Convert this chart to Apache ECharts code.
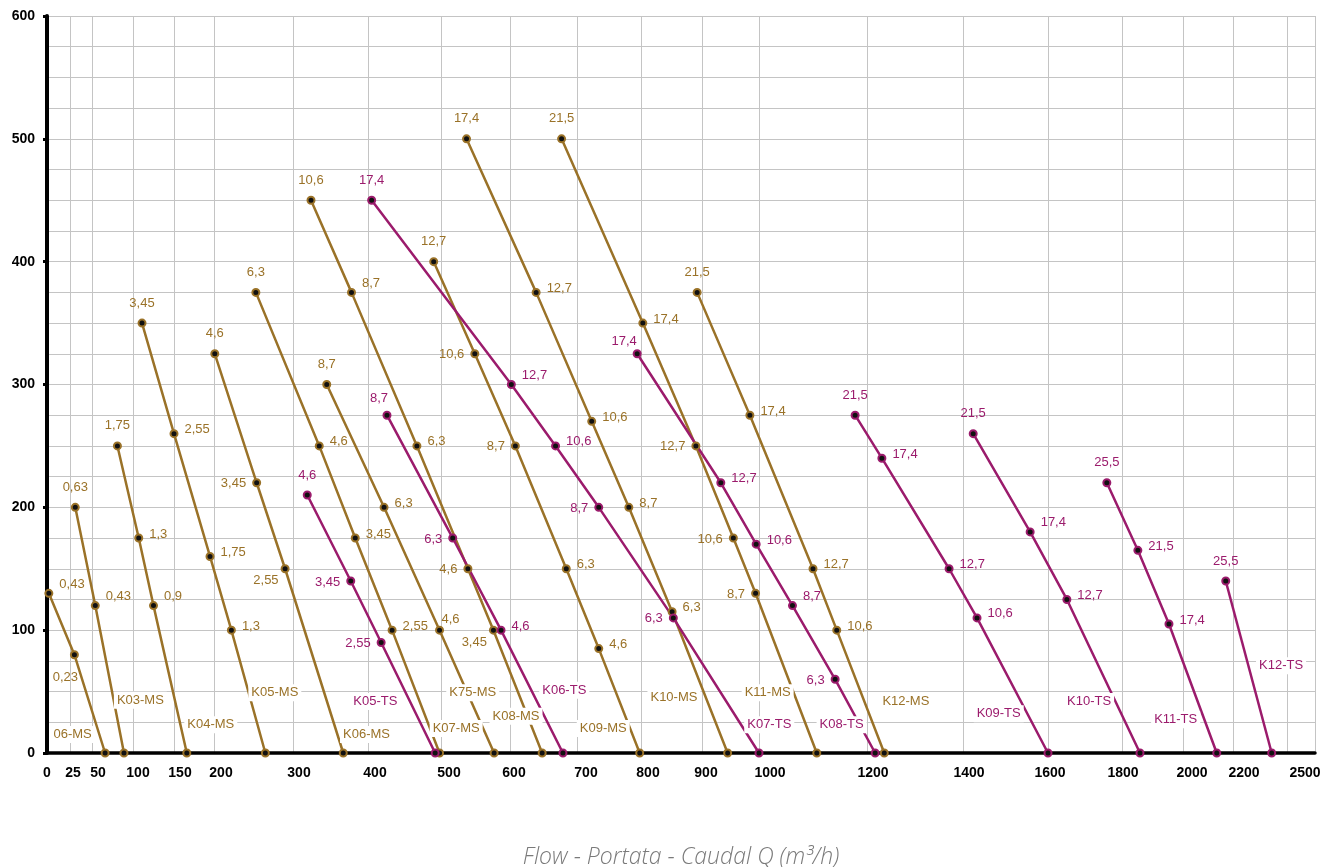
<!DOCTYPE html>
<html>
<head>
<meta charset="utf-8">
<title>Pump curves</title>
<script src="https://cdn.jsdelivr.net/npm/echarts@6/dist/echarts.min.js"></script>
<style>
  html, body { margin: 0; padding: 0; background: #fff; }
  #chart { width: 1323px; height: 867px; }
</style>
</head>
<body>
<div id="chart"></div>
<script>
// flow axis is not linear: gridlines sit at these flows, at these offsets (px from the y axis)
var xTickFlows = [0, 25, 50, 100, 150, 200, 300, 400, 500, 600, 700, 800, 900, 1000, 1200, 1400, 1600, 1800, 2000, 2200, 2500];
var xTickPos = [0, 23, 45, 86, 127, 167, 246, 321, 394, 463, 530, 594, 655, 712, 820, 916, 1001, 1075, 1136, 1186, 1240];
var xAxisEnd = 1268;
// the tick labels sit a bit right of their gridlines
var xLabelPos = [0, 26, 51, 91, 133, 174, 252, 328, 402, 467, 539, 601, 659, 723, 826, 922, 1003, 1076, 1145, 1197, 1258];

var seriesNames = ['06-MS', 'K03-MS', 'K04-MS', 'K05-MS', 'K06-MS', 'K07-MS', 'K75-MS', 'K08-MS', 'K09-MS', 'K10-MS',
  'K11-MS', 'K12-MS', 'K05-TS', 'K06-TS', 'K07-TS', 'K08-TS', 'K09-TS', 'K10-TS', 'K11-TS', 'K12-TS'];

// flow (m3/h)
var flowValues = [
  [2, 30, 66],
  [31, 54, 89],
  [81, 107, 125, 166],
  [111, 150, 195, 222, 265],
  [201, 254, 290, 367],
  [253, 335, 383, 433, 498],
  [345, 422, 498, 577],
  [324, 378, 467, 539, 576, 648],
  [490, 549, 608, 684, 734, 798],
  [537, 639, 723, 781, 851, 945],
  [677, 803, 890, 955, 994, 1107],
  [892, 984, 1100, 1144, 1236],
  [319, 377, 418, 492],
  [426, 517, 587, 679],
  [405, 602, 668, 734, 853, 1000],
  [794, 933, 995, 1062, 1141, 1217],
  [1178, 1231, 1371, 1433, 1600],
  [1424, 1558, 1651, 1859],
  [1759, 1852, 1954, 2135],
  [2171, 2415]
];

// head
var headValues = [
  [130, 80, 0],
  [200, 120, 0],
  [250, 175, 120, 0],
  [350, 260, 160, 100, 0],
  [325, 220, 150, 0],
  [375, 250, 175, 100, 0],
  [300, 200, 100, 0],
  [450, 375, 250, 150, 100, 0],
  [400, 325, 250, 150, 85, 0],
  [500, 375, 270, 200, 115, 0],
  [500, 350, 250, 175, 130, 0],
  [375, 275, 150, 100, 0],
  [210, 140, 90, 0],
  [275, 175, 100, 0],
  [450, 300, 250, 200, 110, 0],
  [325, 220, 170, 120, 60, 0],
  [275, 240, 150, 110, 0],
  [260, 180, 125, 0],
  [220, 165, 105, 0],
  [140, 0]
];

// power printed next to each point
var powerValues = [
  [0.43, 0.23, null],
  [0.63, 0.43, null],
  [1.75, 1.3, 0.9, null],
  [3.45, 2.55, 1.75, 1.3, null],
  [4.6, 3.45, 2.55, null],
  [6.3, 4.6, 3.45, 2.55, null],
  [8.7, 6.3, 4.6, null],
  [10.6, 8.7, 6.3, 4.6, 3.45, null],
  [12.7, 10.6, 8.7, 6.3, 4.6, null],
  [17.4, 12.7, 10.6, 8.7, 6.3, null],
  [21.5, 17.4, 12.7, 10.6, 8.7, null],
  [21.5, 17.4, 12.7, 10.6, null],
  [4.6, 3.45, 2.55, null],
  [8.7, 6.3, 4.6, null],
  [17.4, 12.7, 10.6, 8.7, 6.3, null],
  [17.4, 12.7, 10.6, 8.7, 6.3, null],
  [21.5, 17.4, 12.7, 10.6, null],
  [21.5, 17.4, 12.7, null],
  [25.5, 21.5, 17.4, null],
  [25.5, null]
];

// where the series name is written (flow, head)
var nameFlows = [28, 109, 196, 277, 398, 522, 546, 609, 741, 854, 1016, 1281, 410, 681, 1019, 1153, 1484, 1711, 1976, 2467];
var nameHeads = [15, 43, 23, 49, 15, 20, 49, 30, 20, 45, 49, 42, 42, 51, 23, 23, 32, 42, 27, 71];

// which side of the point each power label goes
var labelSides = [
  ['ru', 'bl', ''],
  ['t', 'ru', ''],
  ['t', 'r', 'ru', ''],
  ['t', 'r', 'r', 'r', ''],
  ['t', 'l', 'ld', ''],
  ['t', 'r', 'r', 'r', ''],
  ['t', 'r', 'tr', ''],
  ['t', 'ru', 'r', 'l', 'ld', ''],
  ['t', 'l', 'l', 'r', 'r', ''],
  ['t', 'r', 'r', 'r', 'r', ''],
  ['t', 'r', 'l', 'l', 'l', ''],
  ['t', 'r', 'r', 'r', ''],
  ['t', 'l', 'l', ''],
  ['tw', 'l', 'r', ''],
  ['t', 'ru', 'r', 'l', 'l', ''],
  ['tl', 'r', 'r', 'ru', 'l', ''],
  ['t', 'r', 'r', 'r', ''],
  ['t', 'ru', 'r', ''],
  ['t', 'r', 'r', ''],
  ['t', '']
];

var GOLD = '#9a7228';
var PURPLE = '#9b1b6c';
var GRID = '#c4c4c4';

var SIDES = {
  t: { position: 'top', distance: 9 },
  tw: { position: 'top', distance: 6, offset: [-8, 0] },
  tl: { position: 'top', distance: 1, offset: [-13, 0] },
  tr: { position: 'top', distance: 0, offset: [11, 0] },
  r: { position: 'right', distance: 6, offset: [0, -4] },
  ru: { position: 'right', distance: 6, offset: [0, -9] },
  l: { position: 'left', distance: 6, offset: [0, 1] },
  ld: { position: 'left', distance: 2, offset: [0, 12] },
  bl: { position: 'bottom', distance: 12, offset: [-9, 0] }
};

function toAxis(flow) {
  for (var i = 1; i < xTickFlows.length; i++) {
    if (flow <= xTickFlows[i]) {
      var t = (flow - xTickFlows[i - 1]) / (xTickFlows[i] - xTickFlows[i - 1]);
      return xTickPos[i - 1] + t * (xTickPos[i] - xTickPos[i - 1]);
    }
  }
  var n = xTickFlows.length - 1;
  return xTickPos[n] + (flow - xTickFlows[n]) * (xTickPos[n] - xTickPos[n - 1]) / (xTickFlows[n] - xTickFlows[n - 1]);
}

function fmt(v) {
  return String(v).replace('.', ',');
}

var chart = echarts.init(document.getElementById('chart'));

var series = seriesNames.map(function (name, s) {
  var color = name.indexOf('TS') > 0 ? PURPLE : GOLD;
  var data = flowValues[s].map(function (f, j) {
    var p = powerValues[s][j];
    var side = SIDES[labelSides[s][j]];
    var item = { value: [toAxis(f), headValues[s][j]], power: p == null ? '' : fmt(p) };
    if (side) {
      item.label = {
        show: true,
        position: side.position,
        distance: side.distance,
        offset: side.offset || [0, 0]
      };
    } else {
      item.label = { show: false };
    }
    return item;
  });
  return {
    type: 'line',
    name: name,
    data: data,
    symbol: 'circle',
    symbolSize: 7,
    showAllSymbol: true,
    lineStyle: { color: color, width: 2.5 },
    itemStyle: { color: '#111', borderColor: color, borderWidth: 2 },
    label: {
      show: true,
      color: color,
      fontSize: 13,
      formatter: function (p) { return p.data.power; }
    },
    emphasis: { disabled: true },
    z: 3
  };
});

// series names, on a white box over the lines
series.push({
  type: 'scatter',
  symbolSize: 0,
  silent: true,
  z: 5,
  itemStyle: { opacity: 1 },
  data: seriesNames.map(function (name, s) {
    var color = name.indexOf('TS') > 0 ? PURPLE : GOLD;
    return {
      value: [toAxis(nameFlows[s]), nameHeads[s]],
      name: name,
      label: { color: color }
    };
  }),
  label: {
    show: true,
    position: 'inside',
    fontSize: 13,
    opacity: 1,
    backgroundColor: '#fff',
    padding: [2, 3],
    textBorderWidth: 0,
    textBorderColor: 'transparent',
    formatter: function (p) { return p.name; }
  }
});

chart.setOption({
  animation: false,
  backgroundColor: '#fff',
  textStyle: { fontFamily: 'Liberation Sans, Arial, sans-serif' },
  grid: { left: 47, right: 8, top: 16, bottom: 114, containLabel: false, outerBoundsMode: 'none' },
  xAxis: {
    type: 'value',
    min: 0,
    max: xAxisEnd,
    axisLine: { show: true, onZero: false, lineStyle: { color: '#000', width: 3.5 } },
    axisTick: { show: false, customValues: xTickPos.concat([xAxisEnd]) },
    axisLabel: {
      customValues: xLabelPos,
      color: '#000',
      fontWeight: 'bold',
      fontSize: 14,
      margin: 13,
      formatter: function (v) {
        var i = xLabelPos.indexOf(v);
        return i < 0 ? '' : String(xTickFlows[i]);
      }
    },
    splitLine: { show: true, lineStyle: { color: GRID, width: 1 } },
    name: 'Flow - Portata - Caudal Q (m³/h)',
    nameLocation: 'middle',
    nameGap: 93,
    nameTextStyle: {
      color: '#7a7a7a',
      fontSize: 23,
      fontStyle: 'italic',
      fontFamily: 'Open Sans, sans-serif',
      fontWeight: 300
    }
  },
  yAxis: {
    type: 'value',
    min: 0,
    max: 600,
    interval: 100,
    axisLine: { show: true, lineStyle: { color: '#000', width: 4 } },
    axisTick: { show: true, length: 4, lineStyle: { color: '#000', width: 3 } },
    axisLabel: { color: '#000', fontWeight: 'bold', fontSize: 14, margin: 12 },
    splitLine: { show: true, lineStyle: { color: GRID, width: 1 } },
    minorTick: { show: false, splitNumber: 4 },
    minorSplitLine: { show: true, lineStyle: { color: GRID, width: 1 } }
  },
  series: series
});
</script>
</body>
</html>
